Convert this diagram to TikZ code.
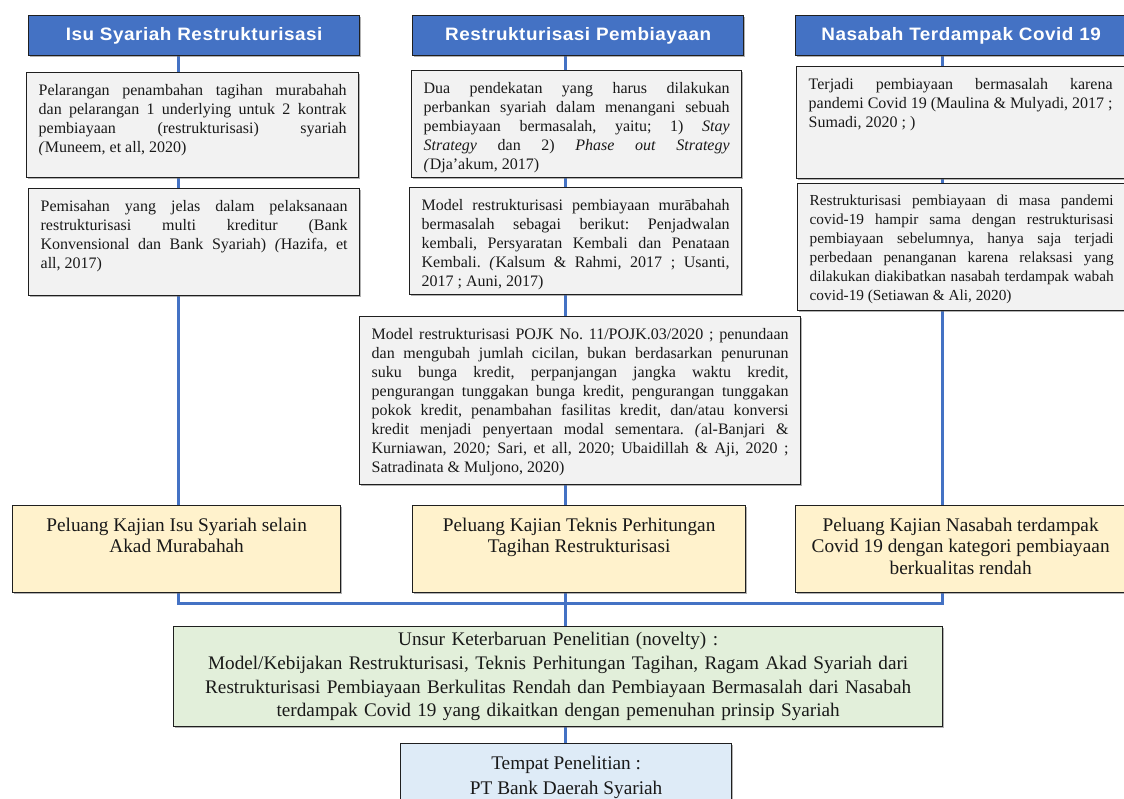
\documentclass[tikz,border=0pt]{standalone}
\usepackage{fontspec}
\setmainfont{Liberation Serif}
\newfontfamily\headfont[FakeStretch=1.05,LetterSpace=3]{Liberation Sans}
\usepackage{xcolor}
\usetikzlibrary{positioning,backgrounds,shadows}
\definecolor{ink}{HTML}{1F1F1F}
\definecolor{cobalt}{HTML}{4472C4}
\definecolor{paper}{HTML}{F2F2F2}
\definecolor{cream}{HTML}{FFF2CC}
\definecolor{mint}{HTML}{E2EFDA}
\definecolor{ice}{HTML}{DEEBF7}
\tolerance=9999 \hbadness=10000 \vbadness=10000 \hfuzz=30pt \vfuzz=30pt
\hyphenpenalty=10000 \exhyphenpenalty=10000
\frenchspacing
\newcommand{\boxtxt}[3]{\parbox[c][#2][t]{#1}{#3}}
\tikzset{
  boxshadow/.style={drop shadow={shadow xshift=1.2pt,shadow yshift=-1.2pt,opacity=.5,fill=black!60}},
  head/.style={draw=ink,line width=1.3pt,fill=cobalt,text=white,anchor=north west,
    minimum width=331pt,minimum height=40pt,inner sep=0pt,
    font=\headfont\bfseries\fontsize{18}{20}\selectfont,boxshadow},
  note/.style={draw=ink,line width=1.3pt,fill=paper,text=black!90,anchor=north west,
    inner xsep=12pt,inner ysep=11.5pt,font=\fontsize{16}{19}\selectfont,boxshadow},
  chance/.style={note,fill=cream,inner ysep=12pt,font=\fontsize{19.3}{21.5}\selectfont},
  novelty/.style={note,fill=mint,text width=760pt,align=center,inner xsep=4.5pt,inner ysep=0pt,
    minimum height=100pt,font=\fontsize{19.2}{23.7}\selectfont},
  site/.style={chance,fill=ice,font=\fontsize{19.3}{25}\selectfont},
  link/.style={draw=cobalt,line width=3pt}
}
\begin{document}
\begin{tikzpicture}[x=1pt,y=-1pt]
  \useasboundingbox (0,0) rectangle (1124,799);
  \foreach \n/\x/\t in {h1/28/{Isu Syariah Restrukturisasi},
                        h2/412/{Restrukturisasi Pembiayaan},
                        h3/795/{Nasabah Terdampak Covid 19}}
    \node[head] (\n) at (\x,15) {\t};

  % kolom isu syariah
  \node[note] (g1a) at (26,72) {\boxtxt{308pt}{82pt}{Pelarangan penambahan tagihan murabahah\linebreak
    dan pelarangan 1 underlying untuk 2 kontrak\linebreak
    pembiayaan (restrukturisasi) syariah\linebreak
    \textit{(}Muneem, et all, 2020)}};
  \node[note] (g1b) at (28,188) {\boxtxt{307pt}{84pt}{Pemisahan yang jelas dalam pelaksanaan\linebreak
    restrukturisasi multi kreditur (Bank\linebreak
    Konvensional dan Bank Syariah) \textit{(}Hazifa, et\linebreak
    all, 2017)}};

  % kolom restrukturisasi
  \node[note] (g2a) at (411,70) {\boxtxt{306pt}{84pt}{Dua pendekatan yang harus dilakukan\linebreak
    perbankan syariah dalam menangani sebuah\linebreak
    pembiayaan bermasalah, yaitu; 1) \textit{Stay}\linebreak
    \textit{Strategy} dan 2) \textit{Phase out Strategy}\linebreak
    \textit{(}Dja’akum, 2017)}};
  \node[note] (g2b) at (409,187) {\boxtxt{308pt}{84pt}{Model restrukturisasi pembiayaan murābahah\linebreak
    bermasalah sebagai berikut: Penjadwalan\linebreak
    kembali, Persyaratan Kembali dan Penataan\linebreak
    Kembali. \textit{(}Kalsum \& Rahmi, 2017 ; Usanti,\linebreak
    2017 ; Auni, 2017)}};
  \node[note] (pojk) at (359,316) {\boxtxt{417pt}{145pt}{Model restrukturisasi POJK No. 11/POJK.03/2020 ; penundaan\linebreak
    dan mengubah jumlah cicilan, bukan berdasarkan penurunan\linebreak
    suku bunga kredit, perpanjangan jangka waktu kredit,\linebreak
    pengurangan tunggakan bunga kredit, pengurangan tunggakan\linebreak
    pokok kredit, penambahan fasilitas kredit, dan/atau konversi\linebreak
    kredit menjadi penyertaan modal sementara. \textit{(}al-Banjari \&\linebreak
    Kurniawan, 2020\textit{;} Sari, et all, 2020; Ubaidillah \& Aji, 2020 ;\linebreak
    Satradinata \& Muljono, 2020)}};

  % kolom nasabah
  \node[note] (g3a) at (796,66) {\boxtxt{304pt}{89pt}{Terjadi pembiayaan bermasalah karena\linebreak
    pandemi Covid 19 (Maulina \& Mulyadi, 2017 ;\linebreak
    Sumadi, 2020 ; )}};
  \node[note,font=\fontsize{15.3}{19}\selectfont] (g3b) at (797,183) {\boxtxt{304pt}{104pt}{Restrukturisasi pembiayaan di masa pandemi\linebreak
    covid-19 hampir sama dengan restrukturisasi\linebreak
    pembiayaan sebelumnya, hanya saja terjadi\linebreak
    perbedaan penanganan karena relaksasi yang\linebreak
    dilakukan diakibatkan nasabah terdampak wabah\linebreak
    covid-19 (Setiawan \& Ali, 2020)}};

  % peluang kajian
  \node[chance] (y1) at (12,505) {\boxtxt{304pt}{63pt}{\centering Peluang Kajian Isu Syariah selain\\Akad Murabahah}};
  \node[chance] (y2) at (412,505) {\boxtxt{309pt}{63pt}{\centering Peluang Kajian Teknis Perhitungan\\Tagihan Restrukturisasi}};
  \node[chance] (y3) at (795,505) {\boxtxt{306pt}{63pt}{\centering Peluang Kajian Nasabah terdampak\\Covid 19 dengan kategori pembiayaan\\berkualitas rendah}};

  \node[novelty] (nv) at (173,626) {Unsur Keterbaruan Penelitian (novelty) :\\
    Model/Kebijakan Restrukturisasi, Teknis Perhitungan Tagihan, Ragam Akad Syariah dari\\
    Restrukturisasi Pembiayaan Berkulitas Rendah dan Pembiayaan Bermasalah dari Nasabah\\
    terdampak Covid 19 yang dikaitkan dengan pemenuhan prinsip Syariah};
  \node[site] (tp) at (400,743) {\boxtxt{307pt}{46pt}{\centering Tempat Penelitian :\\PT Bank Daerah Syariah}};

  \coordinate (c1) at (178,0);
  \coordinate (c2) at (565,0);
  \coordinate (c3) at (942,0);
  \coordinate (jn) at (565,603);
  \begin{scope}[on background layer]
    \draw[link] (h1.south -| c1) -- (y1.north -| c1);
    \draw[link] (h2.south -| c2) -- (y2.north -| c2);
    \draw[link] (h3.south -| c3) -- (y3.north -| c3);
    \draw[link] (y1.south -| c1) -- (c1 |- jn) -- (c3 |- jn) -- (y3.south -| c3);
    \draw[link] (y2.south -| c2) -- (nv.north -| c2);
    \draw[link] (nv.south -| c2) -- (tp.north -| c2);
  \end{scope}
\end{tikzpicture}
\end{document}
